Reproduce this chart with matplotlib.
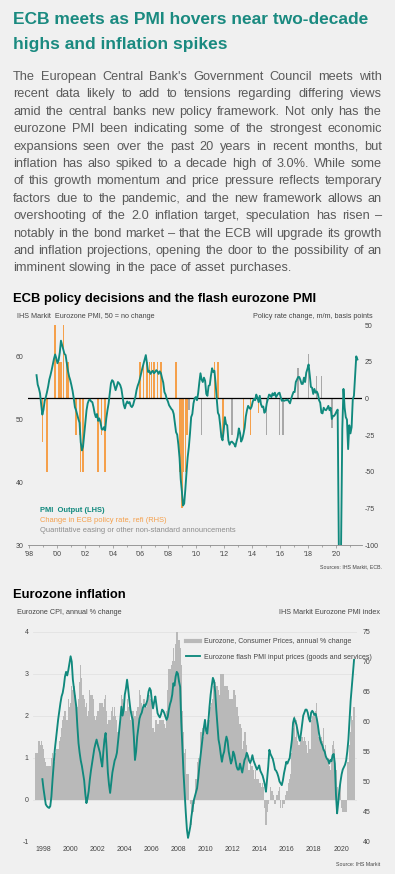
import numpy as np
import pandas as pd
import matplotlib
matplotlib.use("Agg")
import matplotlib.pyplot as plt
from matplotlib.lines import Line2D
from matplotlib.ticker import MultipleLocator

plt.rcParams['font.family'] = ['Liberation Sans', 'DejaVu Sans']
plt.rcParams['axes.unicode_minus'] = False

W, H = 395, 874
BG = "#f0f0f0"
TEAL = "#10897d"
TITLE_TEAL = "#1a8a80"
ORANGE = "#f5a04b"
QE_GREY = "#a8a8a8"
CPI_GREY = "#b9b9b9"
BODY = "#5a5a5a"
SMALL = "#454545"

# ---- text ----
title_lines = ["ECB meets as PMI hovers near two-decade",
               "highs and inflation spikes"]
para_lines = [
    "The European Central Bank's Government Council meets with",
    "recent data likely to add to tensions regarding differing views",
    "amid the central banks new policy framework. Not only has the",
    "eurozone PMI been indicating some of the strongest economic",
    "expansions seen over the past 20 years in recent months, but",
    "inflation has also spiked to a decade high of 3.0%. While some",
    "of this growth momentum and price pressure reflects temporary",
    "factors due to the pandemic, and the new framework allows an",
    "overshooting of the 2.0 inflation target, speculation has risen \u2013",
    "notably in the bond market \u2013 that the ECB will upgrade its growth",
    "and inflation projections, opening the door to the possibility of an",
    "imminent slowing in the pace of asset purchases.",
]

# ---- chart 1: PMI output (monthly from Jul 1998) ----
pmi_output = [
    57.1, 55.6, 55.0, 54.2, 52.4, 50.8,
    51.6, 53.0, 53.6, 54.4, 55.3, 56.4, 57.1, 57.9, 58.8, 59.7, 60.4, 59.8,
    59.0, 59.5, 60.7, 62.6, 61.9, 61.2, 60.5, 60.3, 59.1, 57.8, 56.9, 56.3,
    55.5, 54.6, 53.4, 52.0, 51.5, 50.8, 50.1, 49.5, 46.4, 45.1, 45.7, 47.6,
    49.6, 51.5, 52.6, 53.1, 53.2, 52.9, 52.8, 52.0, 51.0, 50.4, 50.9, 49.8,
    50.2, 49.6, 48.5, 48.4, 48.8, 48.3, 50.2, 51.5, 52.6, 54.2, 55.8, 56.3,
    56.1, 55.4, 54.7, 55.3, 56.0, 55.8, 55.5, 54.9, 53.7, 52.4, 51.8, 52.5,
    52.9, 52.6, 52.8, 52.2, 52.0, 52.3, 53.0, 53.6, 54.7, 55.4, 55.9, 56.6,
    57.4, 58.2, 58.9, 59.6, 60.3, 59.0, 57.6, 57.8, 57.3, 57.6, 57.8, 57.4,
    57.6, 57.9, 57.7, 57.3, 57.7, 57.4, 56.6, 55.9, 54.4, 54.0, 53.3, 52.9,
    52.3, 52.0, 51.7, 51.5, 50.9, 49.4, 48.0, 47.6, 46.0, 43.9, 40.5, 38.6,
    36.3, 36.6, 38.9, 41.6, 44.0, 45.6, 47.8, 50.4, 50.9, 52.6, 53.4, 53.6,
    53.1, 54.2, 55.9, 57.4, 56.4, 56.0, 56.7, 56.2, 54.1, 53.8, 55.4, 55.5,
    57.0, 58.2, 57.6, 57.8, 55.8, 53.3, 51.1, 50.7, 49.1, 47.2, 46.7, 48.3,
    50.4, 49.3, 49.1, 46.7, 46.0, 46.4, 46.5, 46.3, 46.1, 45.7, 46.5, 47.2,
    48.6, 47.9, 46.5, 46.9, 47.7, 48.7, 50.5, 51.5, 52.2, 51.9, 51.7, 52.1,
    52.9, 53.3, 53.1, 54.0, 53.5, 52.8, 53.8, 52.5, 52.0, 52.1, 51.1, 51.4,
    52.6, 53.3, 54.0, 53.9, 53.6, 54.2, 53.9, 54.3, 53.6, 53.9, 54.2, 54.3,
    53.6, 53.0, 53.1, 53.0, 53.1, 53.1, 53.2, 52.9, 52.6, 53.3, 53.9, 54.4,
    54.4, 56.0, 56.4, 56.8, 56.8, 56.3, 55.7, 55.7, 56.7, 56.0, 57.5, 58.1,
    58.8, 57.1, 55.2, 55.1, 54.1, 54.9, 54.3, 54.5, 54.1, 53.1, 52.7, 51.1,
    51.0, 51.9, 51.6, 51.5, 51.8, 52.2, 51.5, 51.9, 50.1, 50.6, 50.6, 50.9,
    51.3, 51.6, 29.7, 13.6, 31.9, 48.5, 54.9, 51.9, 50.4, 50.0, 45.3, 49.1,
    47.8, 48.8, 53.2, 53.8, 57.1, 60.1, 59.6,
]

rate_months = ["1998-12", "1999-04", "1999-11", "2000-02", "2000-03", "2000-04",
               "2000-06", "2000-09", "2000-10", "2001-05", "2001-08", "2001-09",
               "2001-11", "2002-12", "2003-03", "2003-06", "2005-12", "2006-03",
               "2006-06", "2006-08", "2006-10", "2006-12", "2007-03", "2007-06",
               "2008-07", "2008-10", "2008-11", "2008-12", "2009-01", "2009-03",
               "2009-04", "2009-05", "2011-04", "2011-07", "2011-11", "2011-12",
               "2013-05", "2013-11", "2014-06"]
rate_bp = [-30, -50, 50, 25, 25, 25,
           50, 25, 25, -25, -25, -50,
           -50, -50, -25, -50, 25, 25,
           25, 25, 25, 25, 25, 25,
           25, -50, -50, -75, -50, -50,
           -25, -25, 25, 25, -25, -25,
           -25, -25, -10]

qe_months = ["2009-06", "2010-05", "2012-07", "2015-01", "2015-12", "2016-03",
             "2017-04", "2018-01", "2018-08", "2018-12", "2019-09"]
qe_bp = [-8, -25, -25, -25, -25, -25,
         21, 30, 15, 15, -20]

# ---- chart 2 ----
# HICP annual % change, monthly from Jan 1998
cpi = [
    1.1, 1.1, 1.1, 1.4, 1.3, 1.4, 1.3, 1.2, 1.0, 0.9, 0.8, 0.8,
    0.8, 0.8, 1.0, 1.1, 1.0, 0.9, 1.1, 1.2, 1.2, 1.4, 1.5, 1.7,
    1.9, 2.0, 2.1, 1.9, 1.9, 2.4, 2.2, 2.3, 2.7, 2.6, 2.7, 2.5,
    2.1, 2.2, 2.4, 2.8, 3.2, 2.9, 2.5, 2.4, 2.2, 2.3, 2.0, 2.1,
    2.6, 2.5, 2.5, 2.4, 2.0, 1.9, 2.0, 2.1, 2.1, 2.3, 2.3, 2.3,
    2.2, 2.4, 2.5, 2.1, 1.8, 1.9, 1.9, 2.1, 2.2, 2.0, 2.2, 2.0,
    1.9, 1.6, 1.7, 2.0, 2.5, 2.4, 2.3, 2.3, 2.1, 2.4, 2.2, 2.4,
    1.9, 2.1, 2.1, 2.1, 2.0, 2.1, 2.2, 2.2, 2.6, 2.5, 2.3, 2.2,
    2.4, 2.3, 2.2, 2.5, 2.5, 2.5, 2.4, 2.3, 1.7, 1.6, 1.9, 1.9,
    1.8, 1.8, 1.9, 1.9, 1.9, 1.9, 1.8, 1.7, 2.1, 2.6, 3.1, 3.1,
    3.2, 3.3, 3.6, 3.3, 3.7, 4.0, 4.1, 3.8, 3.6, 3.2, 2.1, 1.6,
    1.1, 1.2, 0.6, 0.6, 0.0, -0.1, -0.6, -0.2, -0.3, -0.1, 0.5, 0.9,
    1.0, 0.9, 1.6, 1.6, 1.7, 1.5, 1.7, 1.6, 1.9, 2.0, 1.9, 2.2,
    2.3, 2.4, 2.7, 2.8, 2.7, 2.7, 2.6, 2.5, 3.0, 3.0, 3.0, 2.7,
    2.7, 2.7, 2.7, 2.6, 2.4, 2.4, 2.4, 2.6, 2.6, 2.5, 2.2, 2.2,
    2.0, 1.8, 1.7, 1.2, 1.4, 1.6, 1.6, 1.3, 1.1, 0.7, 0.9, 0.8,
    0.8, 0.7, 0.5, 0.7, 0.5, 0.5, 0.4, 0.4, 0.3, 0.4, 0.3, -0.2,
    -0.6, -0.3, -0.1, 0.0, 0.3, 0.2, 0.2, 0.1, -0.1, 0.1, 0.1, 0.2,
    0.3, -0.2, 0.0, -0.2, -0.1, 0.1, 0.2, 0.2, 0.4, 0.5, 0.6, 1.1,
    1.7, 2.0, 1.5, 1.9, 1.4, 1.3, 1.3, 1.5, 1.5, 1.4, 1.5, 1.4,
    1.3, 1.1, 1.4, 1.2, 1.9, 2.0, 2.1, 2.0, 2.1, 2.3, 1.9, 1.5,
    1.4, 1.5, 1.4, 1.7, 1.2, 1.3, 1.0, 1.0, 0.8, 0.7, 1.0, 1.3,
    1.4, 1.2, 0.7, 0.3, 0.1, 0.3, 0.4, -0.2, -0.3, -0.3, -0.3, -0.3,
    0.9, 0.9, 1.3, 1.6, 2.0, 1.9, 2.2,
]

# flash PMI input prices (goods and services), monthly from Jul 1998
input_prices = [
    50.4, 48.8, 47.5, 46.2, 45.9, 45.7,
    45.6, 45.9, 47.5, 50.3, 52.8, 55.3, 57.0, 58.6, 60.4, 61.8, 63.1, 64.2,
    64.8, 65.9, 67.5, 68.3, 67.7, 68.6, 69.8, 70.9, 70.0, 67.0, 65.5, 64.0,
    62.5, 59.2, 56.4, 54.8, 53.5, 52.6, 51.4, 50.2, 48.0, 46.4, 47.2, 48.4,
    50.3, 51.8, 53.0, 54.2, 55.5, 56.3, 57.0, 56.2, 55.5, 54.8, 53.5, 52.5,
    55.0, 57.0, 58.1, 55.2, 51.5, 49.5, 48.1, 49.8, 51.5, 52.5, 53.5, 54.0,
    54.8, 56.6, 58.5, 60.3, 62.5, 61.0, 62.0, 64.5, 65.5, 67.0, 65.4, 63.6,
    62.0, 61.0, 60.3, 57.5, 53.6, 55.0, 57.5, 59.0, 60.5, 61.1, 61.5, 62.3,
    62.8, 62.5, 63.0, 63.6, 65.0, 65.6, 65.2, 63.4, 62.2, 63.3, 64.2, 62.8,
    61.4, 61.0, 60.7, 61.2, 62.0, 61.8, 61.4, 60.8, 60.3, 60.8, 62.0, 62.9,
    63.5, 64.5, 66.4, 66.0, 67.5, 68.3, 68.0, 66.7, 65.8, 60.0, 55.8, 51.4,
    48.0, 44.8, 42.0, 40.6, 41.5, 42.5, 44.2, 45.5, 46.8, 47.5, 48.2, 48.9,
    50.5, 52.5, 54.2, 56.0, 57.5, 59.0, 60.3, 58.5, 58.0, 60.0, 62.5, 64.5,
    66.0, 67.3, 66.8, 65.0, 62.0, 59.5, 57.0, 56.0, 54.5, 53.3, 54.4, 55.0,
    56.5, 57.5, 56.8, 55.0, 54.0, 53.0, 53.6, 55.0, 54.5, 53.5, 52.5, 52.0,
    52.0, 53.0, 52.2, 51.5, 52.5, 53.6, 54.0, 54.8, 54.3, 53.5, 53.1, 53.6,
    54.4, 53.5, 53.0, 52.5, 52.0, 52.3, 52.7, 51.8, 51.4, 51.0, 50.3, 49.5,
    48.3, 50.5, 52.5, 55.3, 54.6, 54.2, 53.8, 53.0, 52.0, 51.8, 51.4, 50.8,
    50.0, 49.7, 49.4, 50.2, 51.4, 52.3, 53.3, 53.0, 53.5, 53.9, 55.5, 57.0,
    59.8, 60.6, 60.0, 59.5, 58.5, 57.5, 56.8, 58.0, 59.5, 61.0, 61.5, 62.0,
    62.0, 61.5, 60.5, 60.0, 61.5, 61.8, 61.5, 61.1, 61.3, 60.5, 59.4, 58.0,
    57.0, 56.4, 56.0, 55.3, 55.0, 54.2, 53.8, 53.6, 53.0, 53.6, 53.4, 54.4,
    54.6, 53.0, 47.8, 44.7, 46.5, 48.6, 50.0, 51.2, 52.0, 52.4, 52.8, 53.5,
    55.0, 57.0, 60.3, 63.5, 65.8, 68.0, 70.3,
]


def dec_year(months):
    d = pd.DatetimeIndex(months)
    return (d.year + (d.month - 1) / 12 + 1 / 24).to_numpy()


def monthly(start, n):
    return dec_year(pd.date_range(start, periods=n, freq="MS"))


def fx(x):
    return x / W


def fy(y):
    return 1 - y / H


fig = plt.figure(figsize=(W / 100, H / 100), dpi=100, facecolor=BG)
renderer = fig.canvas.get_renderer()


def fitted(x, y, s, width, size0=10, **kw):
    # set font size so the string spans `width` pixels
    t = fig.text(fx(x), fy(y), s, fontsize=size0, va="baseline", **kw)
    w = t.get_window_extent(renderer).width
    t.set_fontsize(size0 * width / w)
    return t


# title
tt = fitted(13, 24, title_lines[0], 355, weight="bold", color=TITLE_TEAL)
fig.text(fx(13), fy(49), title_lines[1], fontsize=tt.get_fontsize(),
         weight="bold", color=TITLE_TEAL, va="baseline")

# justified paragraph
x0, x1 = 13, 382
probe = [fig.text(0, 0, l, fontsize=10) for l in para_lines[:-1]]
natural = max(p.get_window_extent(renderer).width for p in probe)
for p in probe:
    p.remove()
psize = 10 * 368 / natural
sp_a = fig.text(0, 0, "a a", fontsize=psize)
sp_b = fig.text(0, 0, "aa", fontsize=psize)
space = sp_a.get_window_extent(renderer).width - sp_b.get_window_extent(renderer).width
sp_a.remove()
sp_b.remove()
for i, line in enumerate(para_lines):
    yb = fy(80 + i * 17.4)
    words = line.split(" ")
    texts = [fig.text(0, yb, w, fontsize=psize, color=BODY, va="baseline")
             for w in words]
    widths = [t.get_window_extent(renderer).width for t in texts]
    if i == len(para_lines) - 1:
        gap = space
    else:
        gap = (x1 - x0 - sum(widths)) / (len(words) - 1)
    xp = x0
    for t, w in zip(texts, widths):
        t.set_x(fx(xp))
        xp += w + gap

# ---------------- chart 1 ----------------
fitted(13, 301.5, "ECB policy decisions and the flash eurozone PMI", 305,
       weight="bold", color="black")
fig.text(fx(17), fy(316), "IHS Markit  Eurozone PMI, 50 = no change",
         fontsize=5.2, color=SMALL, va="center")
fig.text(fx(373), fy(316), "Policy rate change, m/m, basis points",
         fontsize=5.2, color=SMALL, va="center", ha="right")

# bars on the base axes, PMI line on the twin so it is drawn on top
ax_r = fig.add_axes([fx(28), fy(545), (362 - 28) / W, (545 - 325) / H])
ax_r.set_facecolor("none")
ax_l = ax_r.twinx()

ax_r.bar(dec_year(rate_months), rate_bp, width=0.1, color=ORANGE,
         linewidth=0, zorder=2)
ax_r.bar(dec_year(qe_months), qe_bp, width=0.1, color=QE_GREY,
         linewidth=0, zorder=2)
ax_r.axhline(0, color="black", lw=0.9, zorder=3)
ax_r.set_ylim(-100, 50)
ax_r.set_yticks([-100, -75, -50, -25, 0, 25, 50])
ax_r.yaxis.tick_right()
ax_r.set_xlim(1997.93, 2021.87)
ax_r.set_xticks(range(1998, 2021, 2))
ax_r.set_xticklabels(["'%02d" % (y % 100) for y in range(1998, 2021, 2)])
ax_r.xaxis.set_minor_locator(MultipleLocator(1))
ax_r.tick_params(axis="x", which="both", direction="out", length=2,
                 width=0.5, color="#8a8a8a", labelsize=5, labelcolor=SMALL, pad=2)
ax_r.tick_params(axis="x", which="minor", length=1.5)
ax_r.tick_params(axis="y", length=0, labelsize=5, labelcolor=SMALL, pad=2)
for k, s in ax_r.spines.items():
    s.set_visible(k == "bottom")
ax_r.spines["bottom"].set_color("#8a8a8a")
ax_r.spines["bottom"].set_linewidth(0.6)

ax_l.plot(monthly("1998-07-01", len(pmi_output)), pmi_output, color=TEAL,
          lw=1.35, solid_joinstyle="round")
ax_l.set_ylim(30, 65.1)
ax_l.set_yticks([30, 40, 50, 60])
ax_l.yaxis.tick_left()
ax_l.tick_params(axis="y", length=0, labelsize=5, labelcolor=SMALL, pad=3)
for s in ax_l.spines.values():
    s.set_visible(False)

fig.text(fx(40), fy(510), "PMI  Output (LHS)", fontsize=5.4, color=TEAL,
         weight="bold", va="center")
fig.text(fx(40), fy(521), "Change in ECB policy rate, refi (RHS)", fontsize=5.4,
         color=ORANGE, va="center")
fig.text(fx(40), fy(531), "Quantitative easing or other non-standard announcements",
         fontsize=5.4, color="#8c8c8c", va="center")
fig.text(fx(382), fy(567), "Sources: IHS Markit, ECB.", fontsize=3.8,
         color=SMALL, va="center", ha="right")

# ---------------- chart 2 ----------------
fitted(13, 598, "Eurozone inflation", 113, weight="bold", color="black")
fig.text(fx(17), fy(612), "Eurozone CPI, annual % change", fontsize=5.2,
         color=SMALL, va="center")
fig.text(fx(380), fy(612), "IHS Markit Eurozone PMI index", fontsize=5.2,
         color=SMALL, va="center", ha="right")

ax_c = fig.add_axes([fx(33), fy(841.5), (357 - 33) / W, (841.5 - 631.7) / H])
ax_c.set_facecolor("none")
cpi_edges = np.append(monthly("1998-01-01", len(cpi)) - 1 / 24,
                      monthly("1998-01-01", len(cpi))[-1] + 1 / 24)
ax_c.stairs(cpi, cpi_edges, baseline=0, fill=True, color=CPI_GREY, zorder=2)
ax_c.set_ylim(-1, 4)
ax_c.set_yticks(range(-1, 5))
ax_c.grid(axis="y", color="#e2e2e2", lw=0.6, zorder=0)
ax_c.set_axisbelow(True)
ax_c.set_xlim(1997.85, 2021.76)
ax_c.set_xticks(range(1998, 2021, 2))
ax_c.set_xticklabels([str(y) for y in range(1998, 2021, 2)])
for lbl in ax_c.get_xticklabels():
    lbl.set_horizontalalignment("left")
ax_c.tick_params(axis="x", length=0, labelsize=5, labelcolor=SMALL, pad=3)
ax_c.tick_params(axis="y", length=0, labelsize=5, labelcolor=SMALL, pad=3)
for s in ax_c.spines.values():
    s.set_visible(False)

ax_p = ax_c.twinx()
ax_p.plot(monthly("1998-07-01", len(input_prices)), input_prices, color=TEAL,
          lw=1.35, solid_joinstyle="round")
ax_p.set_ylim(40, 75)
ax_p.set_yticks(range(40, 80, 5))
ax_p.tick_params(axis="y", length=0, labelsize=5, labelcolor=SMALL, pad=4)
for s in ax_p.spines.values():
    s.set_visible(False)

ax_p.legend(handles=[Line2D([], [], color=CPI_GREY, lw=3),
                     Line2D([], [], color=TEAL, lw=1.35)],
            labels=["Eurozone, Consumer Prices, annual % change",
                    "Eurozone flash PMI input prices (goods and services)"],
            loc="upper left", bbox_to_anchor=(fx(186), fy(638)),
            bbox_transform=fig.transFigure, frameon=False, fontsize=5,
            handlelength=2.0, handletextpad=0.6, labelspacing=1.25,
            borderpad=0, borderaxespad=0, labelcolor=SMALL)

fig.text(fx(380), fy(865), "Source: IHS Markit", fontsize=3.8, color=SMALL,
         va="center", ha="right")

fig.savefig("out.png", dpi=100, facecolor=BG)
